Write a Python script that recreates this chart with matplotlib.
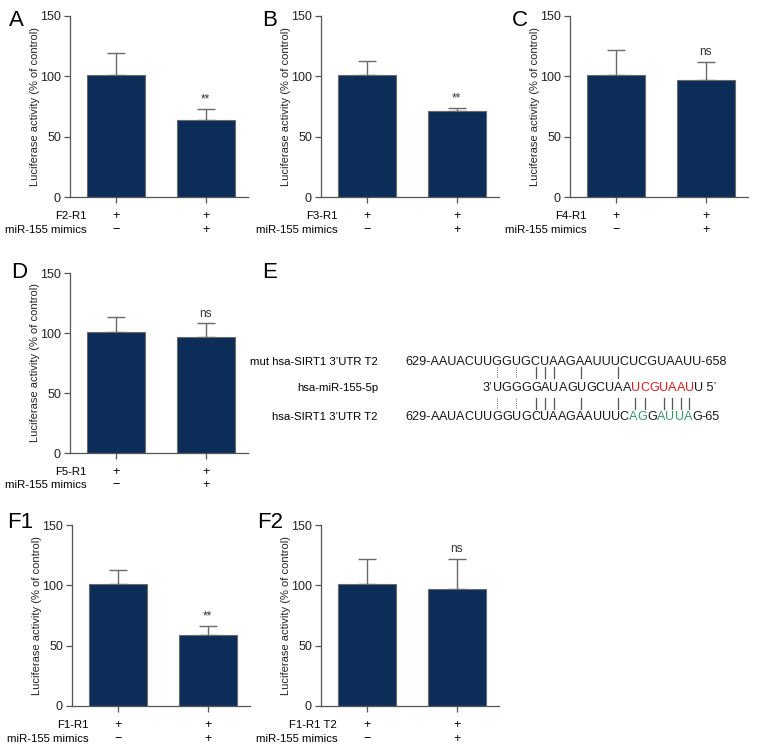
import matplotlib
matplotlib.use("Agg")
import matplotlib.pyplot as plt
import matplotlib.transforms as mtransforms
from matplotlib.font_manager import FontProperties

plt.rcParams['font.family'] = ['Liberation Sans', 'DejaVu Sans']

# ---- data ----
panels = ["A", "B", "C", "D", "F1", "F2"]
constructs = ["F2-R1", "F3-R1", "F4-R1", "F5-R1", "F1-R1", "F1-R1 T2"]
means = [[101, 64], [101, 71], [101, 97], [101, 97], [101, 59], [101, 97]]
errors = [[18, 9], [12, 3], [21, 15], [12, 11], [12, 7], [21, 25]]
signif = ["**", "**", "ns", "ns", "**", "ns"]
mimics = ["\u2212", "+"]

seq_mut = "AAUACUUGGUGCUAAGAAUUUCUCGUAAUU"
seq_wt = "AAUACUUGGUGCUAAGAAUUUCAGGAUUAG"
mirna = "UGGGGAUAGUGCUAAUCGUAAUU"
mirna_red = range(15, 22)
wt_green = [22, 23, 25, 26, 27, 28]
dotted_pairs = [0, 2]
solid_top = [4, 5, 6, 9, 13]
solid_bottom = [4, 5, 6, 9, 13, 15, 16, 18, 19, 20, 21]
offset = 7  # mirna index i pairs with target letter i + offset

bar_color = "#0c2d58"
edge = "#6a6a6a"

W, H = 768, 756
fig = plt.figure(figsize=(W / 100, H / 100), dpi=100)

# axes placement in pixels: (left, zero-line y, top y)
boxes = [(70, 197, 16), (321, 197, 16), (570, 197, 16),
         (70, 453, 273), (72, 706, 525), (321, 706, 525)]
letter_pos = [(9, 10), (262, 10), (512, 10), (11, 262), (7, 512), (257, 512)]

for k in range(6):
    left, y0, y1 = boxes[k]
    ax = fig.add_axes([left / W, 1 - y0 / H, 178 / W, (y0 - y1) / H])
    ax.bar([0, 1], means[k], width=0.65, color=bar_color, edgecolor=edge, linewidth=0.8, zorder=2)
    ax.errorbar([0, 1], means[k], yerr=[[0, 0], errors[k]], fmt="none",
                ecolor=edge, elinewidth=1, capsize=6.5, capthick=1, zorder=1)
    ax.text(1, means[k][1] + errors[k][1] + 3, signif[k], ha="center", va="bottom",
            fontsize=8.5, color="#333333")
    ax.set_xlim(-0.51, 1.47)
    ax.set_ylim(0, 150)
    ax.set_yticks([0, 50, 100, 150])
    ax.set_xticks([0, 1])
    ax.set_xticklabels([])
    for s in ["top", "right"]:
        ax.spines[s].set_visible(False)
    for s in ["left", "bottom"]:
        ax.spines[s].set_color("#555555")
        ax.spines[s].set_linewidth(0.9)
    ax.tick_params(axis="both", colors="#555555", length=4, width=0.9, labelsize=9,
                   labelcolor="#222222", pad=2.5)
    ax.set_ylabel("Luciferase activity (% of control)", fontsize=8, color="#222222")
    ax.yaxis.set_label_coords(-0.17, 0.5)
    tr = mtransforms.blended_transform_factory(ax.transData, ax.transAxes)
    ax.text(-0.33, -0.105, constructs[k], transform=tr, ha="right", va="center", fontsize=8.2)
    ax.text(-0.33, -0.18, "miR-155 mimics", transform=tr, ha="right", va="center", fontsize=8.2)
    for i in range(2):
        ax.text(i, -0.105, "+", transform=tr, ha="center", va="center", fontsize=9)
        ax.text(i, -0.18, mimics[i], transform=tr, ha="center", va="center", fontsize=9)
    lx, ly = letter_pos[k]
    fig.text(lx / W, 1 - ly / H, panels[k], ha="left", va="top", fontsize=16)

# ---- panel E: sequence alignment ----
fig.text(262 / W, 1 - 262 / H, "E", ha="left", va="top", fontsize=16)
axe = fig.add_axes([0, 0, 1, 1])
axe.set_xlim(0, W)
axe.set_ylim(H, 0)
axe.axis("off")

renderer = fig.canvas.get_renderer()
top_text = "629-" + seq_mut + "-658"
prop = FontProperties(family="Liberation Sans", size=10)
w10 = renderer.get_text_width_height_descent(top_text, prop, ismath=False)[0]
prop = FontProperties(family="Liberation Sans", size=10 * 323 / w10)  # fit reference width


def tw(s):
    return renderer.get_text_width_height_descent(s, prop, ismath=False)[0] if s else 0.0


def put(x, y, pieces):
    # pieces: list of (string, colour); drawn left to right from x
    for s, c in pieces:
        axe.text(x, y, s, ha="left", va="center", fontproperties=prop, color=c)
        x += tw(s)


dark, red, green = "#1a1a1a", "#d42020", "#3a9a6a"
xs = 405
rows_y = [362, 388, 417]

axe.text(378, rows_y[0], "mut hsa-SIRT1 3\u2019UTR T2", ha="right", va="center", fontsize=8.2)
axe.text(378, rows_y[1], "hsa-miR-155-5p", ha="right", va="center", fontsize=8.2)
axe.text(378, rows_y[2], "hsa-SIRT1 3\u2019UTR T2", ha="right", va="center", fontsize=8.2)

put(xs, rows_y[0], [(top_text, dark)])

wt_pieces = []
for j, ch in enumerate(seq_wt):
    wt_pieces.append((ch, green if j in wt_green else dark))
put(xs, rows_y[2], [("629-", dark)] + wt_pieces + [("-65", dark)])


def target_center(j, seq):
    return xs + tw("629-" + seq[:j]) + tw(seq[j]) / 2


# miRNA: letter 0 centred over target letter `offset`
mx = target_center(offset, seq_mut) - tw(mirna[0]) / 2 - tw("3\u2019")
mi_pieces = [("3\u2019", dark)]
for i, ch in enumerate(mirna):
    mi_pieces.append((ch, red if i in mirna_red else dark))
mi_pieces.append((" 5\u2019", dark))
put(mx, rows_y[1], mi_pieces)


def mirna_center(i):
    return mx + tw("3\u2019" + mirna[:i]) + tw(mirna[i]) / 2


for i in dotted_pairs:
    xx = mirna_center(i)
    axe.plot([xx, xx], [367, 378], color="#777777", lw=0.8, ls=(0, (1, 1)))
    axe.plot([xx, xx], [398, 409], color="#777777", lw=0.8, ls=(0, (1, 1)))
for i in solid_top:
    xx = mirna_center(i)
    axe.plot([xx, xx], [367, 378], color="#555555", lw=0.9)
for i in solid_bottom:
    xx = mirna_center(i)
    axe.plot([xx, xx], [398, 409], color="#555555", lw=0.9)

fig.savefig("out.png", dpi=100)
